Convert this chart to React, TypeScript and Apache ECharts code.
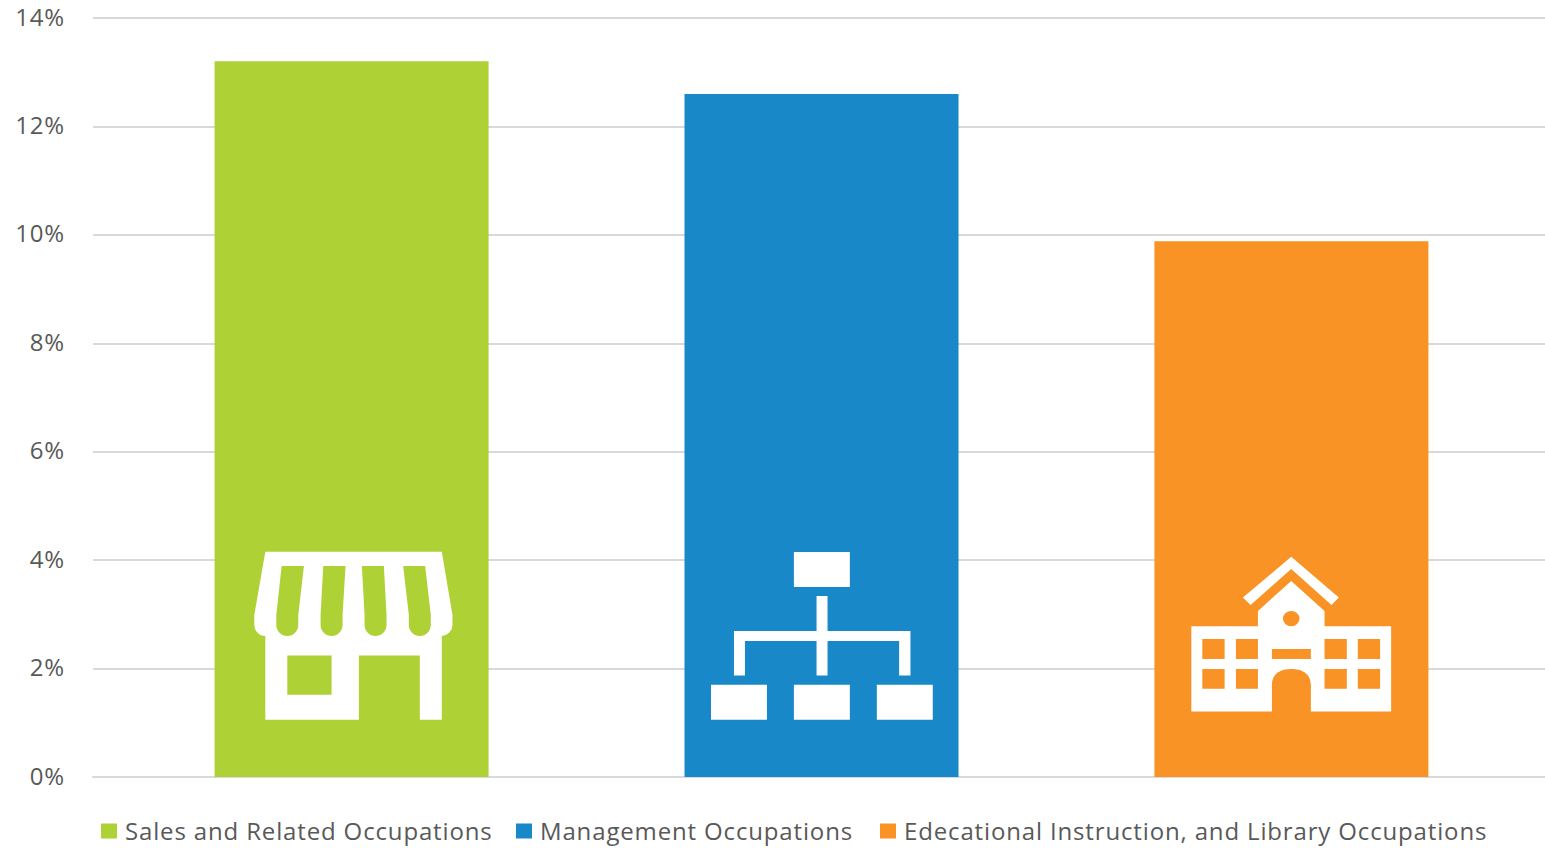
import React, { useEffect, useRef } from "react";
import * as echarts from "echarts";

const categories = ["Occupations"];
const salesValues = [13.2];
const managementValues = [12.6];
const educationValues = [9.88];
const seriesNames = [
  "Sales and Related Occupations",
  "Management Occupations",
  "Edecational Instruction, and Library Occupations",
];
const seriesColors = ["#AED136", "#1888C9", "#F99325"];
const legendLefts = [101, 516, 880];

const hole = (x0: number, y0: number, x1: number, y1: number) =>
  `M${x0},${y0} L${x0},${y1} L${x1},${y1} L${x1},${y0} Z `;
const box = (x0: number, y0: number, x1: number, y1: number) =>
  `M${x0},${y0} L${x1},${y0} L${x1},${y1} L${x0},${y1} Z `;

const storePath =
  "M76,35 L606,35 L638,225 L638,255 A33,33 0 0 1 606,288 L606,540 L540,540 L540,347 L357,347 L357,540 L76,540 L76,288 A33,33 0 0 1 43,255 L43,225 Z " +
  "M125,78 L109,225 L109,255 A33,33 0 0 0 175,255 L175,225 L192,78 Z " +
  "M250,78 L242,225 L242,255 A33,33 0 0 0 308,255 L308,225 L317,78 Z " +
  "M366,78 L374,225 L374,255 A33,33 0 0 0 440,255 L440,225 L432,78 Z " +
  "M490,78 L507,225 L507,255 A33,33 0 0 0 573,255 L573,225 L556,78 Z " +
  hole(142, 347, 275, 465);

const orgPath =
  box(282, 36, 450, 141) +
  box(33, 435, 201, 540) +
  box(282, 435, 450, 540) +
  box(531, 435, 699, 540) +
  box(350, 168, 383, 407) +
  box(102, 273, 632, 303) +
  box(102, 273, 135, 407) +
  box(598, 273, 632, 407);

const schoolPath =
  "M334,35 L477,158 L455,180 L334,72 L212,180 L189,158 Z " +
  "M334,108 L434,198 L434,244 L634,244 L634,500 L393,500 L393,420 C393,385 365,372 334,372 C303,372 276,385 276,420 L276,500 L34,500 L34,244 L234,244 L234,198 Z " +
  hole(67, 282, 134, 342) +
  hole(168, 282, 234, 342) +
  hole(434, 282, 501, 342) +
  hole(534, 282, 601, 342) +
  hole(67, 372, 134, 432) +
  hole(168, 372, 234, 432) +
  hole(434, 372, 501, 432) +
  hole(534, 372, 601, 432) +
  hole(276, 312, 393, 342) +
  "M309,221 A25,23 0 0 0 359,221 A25,23 0 0 0 309,221 Z";

echarts.graphic.registerShape("storeIcon", echarts.graphic.extendPath(storePath, {}));
echarts.graphic.registerShape("orgIcon", echarts.graphic.extendPath(orgPath, {}));
echarts.graphic.registerShape("schoolIcon", echarts.graphic.extendPath(schoolPath, {}));

const TEXT = "#595959";
const LINE = "#D9D9D9";
const FONT = "'Open Sans', 'Noto Sans', sans-serif";

export default function App() {
  const ref = useRef<HTMLDivElement>(null);
  useEffect(() => {
    const chart = echarts.init(ref.current!, null, { renderer: "svg" });
    const bar = (i: number, data: number[]) => ({
      name: seriesNames[i],
      type: "bar" as const,
      data,
      barWidth: 274,
      barGap: "71.5%",
      itemStyle: { color: seriesColors[i] },
    });
    chart.setOption({
      animation: false,
      backgroundColor: "#fff",
      grid: { left: 93, top: 18, width: 1457, height: 759, containLabel: false, outerBoundsMode: "none" },
      legend: seriesNames.map((name, i) => ({
        left: legendLefts[i],
        top: 818,
        itemWidth: 16,
        itemHeight: 15,
        icon: "rect",
        padding: 0,
        selectedMode: false,
        formatter: "{t|{name}}",
        textStyle: {
          color: TEXT,
          fontFamily: FONT,
          fontSize: 24,
          padding: [0, 0, 0, 3],
          rich: { t: { color: TEXT, fontFamily: FONT, fontSize: 24, padding: [0, 0, 2, 0] } },
        },
        data: [name],
      })),
      xAxis: {
        type: "category",
        data: categories,
        axisLine: { lineStyle: { color: LINE, width: 2 } },
        axisTick: { show: false },
        axisLabel: { show: false },
      },
      yAxis: {
        type: "value",
        min: 0,
        max: 14,
        interval: 2,
        axisLine: { show: false },
        axisTick: { show: false },
        axisLabel: {
          formatter: "{value}%",
          color: TEXT,
          fontFamily: FONT,
          fontSize: 24,
          margin: 28,
          verticalAlign: "bottom",
          lineHeight: 4,
        },
        splitLine: { lineStyle: { color: LINE, width: 2 } },
      },
      series: [bar(0, salesValues), bar(1, managementValues), bar(2, educationValues)],
      graphic: [
        { type: "storeIcon", x: 240, y: 540, scaleX: 1 / 3, scaleY: 1 / 3, z: 100, style: { fill: "#fff" } },
        { type: "orgIcon", x: 700, y: 540, scaleX: 1 / 3, scaleY: 1 / 3, z: 100, style: { fill: "#fff" } },
        { type: "schoolIcon", x: 1180, y: 545, scaleX: 1 / 3, scaleY: 1 / 3, z: 100, style: { fill: "#fff" } },
      ],
    });
    return () => chart.dispose();
  }, []);
  return (
    <div
      ref={ref}
      style={{ position: "absolute", left: 0, top: 0, width: 1545, height: 848, letterSpacing: "0.85px" }}
    />
  );
}
